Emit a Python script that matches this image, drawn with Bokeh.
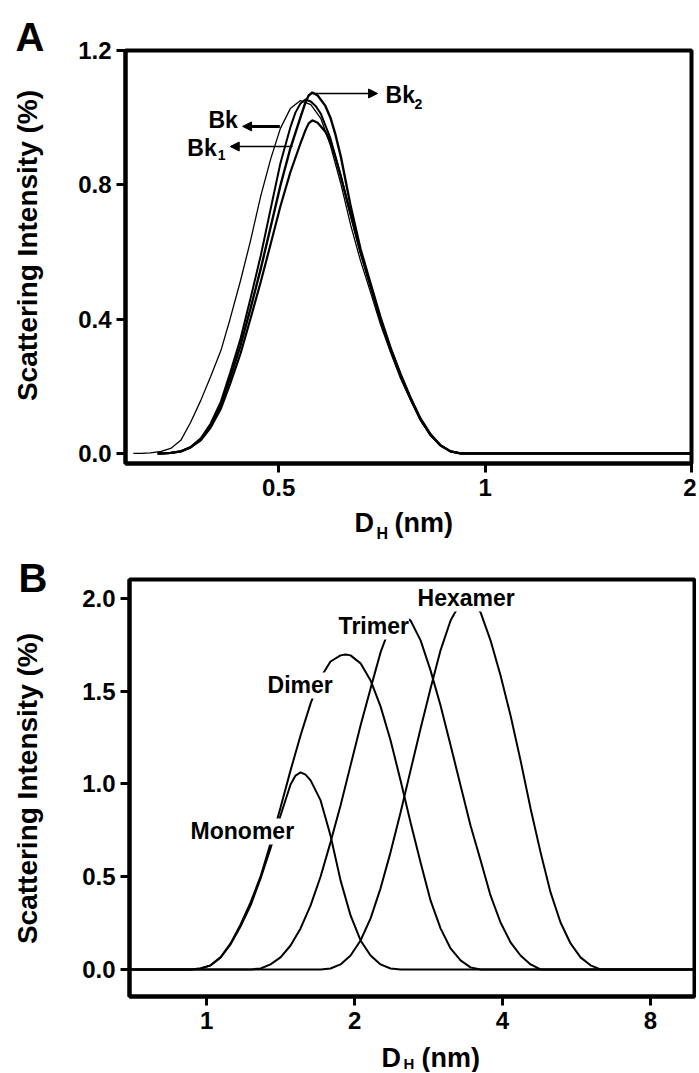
from bokeh.plotting import figure
from bokeh.models import Range1d, FixedTicker, CustomJSTickFormatter, Label, Arrow, NormalHead
from bokeh.layouts import column, row
from bokeh.core.properties import value
from bokeh.embed import file_html
from bokeh.resources import INLINE

FONT = "Liberation Sans"

# ---------------- Panel A data (D_H in nm, intensity in %) ----------------
a_bk_D = [0.307, 0.315, 0.325, 0.337, 0.348, 0.360, 0.372, 0.385, 0.398, 0.412, 0.425, 0.440,
          0.455, 0.471, 0.487, 0.503, 0.520, 0.538, 0.557, 0.576, 0.595, 0.616, 0.637, 0.658,
          0.681, 0.704, 0.728, 0.753, 0.779, 0.805, 0.833, 0.861, 0.891, 0.921, 2.0]
a_bk_I = [0.0, 0.0, 0.0015, 0.006, 0.015, 0.039, 0.092, 0.158, 0.229, 0.307, 0.402, 0.515,
          0.634, 0.768, 0.878, 0.968, 1.027, 1.051, 1.039, 0.998, 0.917, 0.804, 0.679, 0.575,
          0.479, 0.384, 0.301, 0.223, 0.158, 0.098, 0.054, 0.024, 0.006, 0.0, 0.0]

a_bk2_D = [0.333, 0.337, 0.348, 0.360, 0.372, 0.385, 0.398, 0.412, 0.425, 0.440, 0.455, 0.471,
           0.487, 0.503, 0.520, 0.538, 0.547, 0.553, 0.560, 0.570, 0.585, 0.595, 0.605, 0.616,
           0.637, 0.658, 0.681, 0.704, 0.728, 0.753, 0.779, 0.805, 0.833, 0.861, 0.891, 0.921, 2.0]
a_bk2_I = [0.0, 0.0, 0.0015, 0.006, 0.018, 0.042, 0.083, 0.146, 0.226, 0.322, 0.432, 0.551,
           0.676, 0.798, 0.908, 1.001, 1.045, 1.066, 1.075, 1.066, 1.035, 1.000, 0.950, 0.885,
           0.735, 0.610, 0.505, 0.405, 0.315, 0.236, 0.165, 0.104, 0.057, 0.024, 0.006, 0.0, 0.0]

a_bk1_D = a_bk2_D
a_bk1_I = [0.0, 0.0, 0.0015, 0.006, 0.018, 0.039, 0.077, 0.134, 0.208, 0.298, 0.402, 0.512,
           0.625, 0.736, 0.837, 0.923, 0.962, 0.983, 0.992, 0.985, 0.958, 0.928, 0.882, 0.825,
           0.710, 0.600, 0.500, 0.400, 0.312, 0.234, 0.163, 0.101, 0.054, 0.024, 0.006, 0.0, 0.0]

a_c4_D = [0.333, 0.337, 0.348, 0.360, 0.372, 0.385, 0.398, 0.412, 0.425, 0.440, 0.455, 0.471,
          0.487, 0.503, 0.520, 0.529, 0.538, 0.547, 0.557, 0.566, 0.576, 0.595, 0.616, 0.637,
          0.658, 0.681, 0.704, 0.728, 0.753, 0.779, 0.805, 0.833, 0.861, 0.891, 0.921, 2.0]
a_c4_I = [0.0, 0.0, 0.0015, 0.006, 0.019, 0.045, 0.089, 0.155, 0.241, 0.342, 0.462, 0.590,
          0.730, 0.864, 0.971, 1.015, 1.042, 1.054, 1.048, 1.035, 1.012, 0.938, 0.828, 0.709,
          0.599, 0.494, 0.396, 0.307, 0.229, 0.161, 0.101, 0.054, 0.024, 0.006, 0.0, 0.0]

a_yticks = [0.0, 0.4, 0.8, 1.2]
a_xticks = [0.5, 1, 2]

# ---------------- Panel B data ----------------
b_mono_D = [0.697, 0.928, 0.972, 1.019, 1.068, 1.119, 1.173, 1.229, 1.288, 1.349, 1.414, 1.482,
            1.517, 1.553, 1.590, 1.628, 1.706, 1.787, 1.873, 1.963, 2.057, 2.156, 2.259, 2.367,
            2.481, 9.83]
b_mono_I = [0.0, 0.0, 0.005, 0.022, 0.065, 0.135, 0.232, 0.345, 0.491, 0.652, 0.830, 0.997,
            1.045, 1.062, 1.050, 1.019, 0.911, 0.722, 0.480, 0.291, 0.156, 0.075, 0.027, 0.005,
            0.0, 0.0]

b_di_D = [0.697, 0.928, 0.972, 1.019, 1.068, 1.119, 1.173, 1.229, 1.288, 1.349, 1.414, 1.482,
          1.553, 1.628, 1.706, 1.787, 1.873, 1.918, 1.963, 2.057, 2.156, 2.259, 2.367, 2.481,
          2.600, 2.725, 2.855, 2.992, 3.136, 3.286, 3.443, 3.609, 9.83]
b_di_I = [0.0, 0.0, 0.005, 0.022, 0.065, 0.140, 0.243, 0.361, 0.501, 0.679, 0.873, 1.073,
          1.261, 1.434, 1.574, 1.660, 1.693, 1.698, 1.693, 1.650, 1.558, 1.418, 1.235, 1.019,
          0.792, 0.577, 0.372, 0.221, 0.113, 0.049, 0.011, 0.0, 0.0]

b_tri_D = [0.697, 1.229, 1.288, 1.349, 1.414, 1.482, 1.553, 1.628, 1.706, 1.787, 1.873, 1.963,
           2.057, 2.156, 2.259, 2.367, 2.423, 2.481, 2.600, 2.725, 2.855, 2.992, 3.136, 3.286,
           3.443, 3.609, 3.781, 3.963, 4.153, 4.352, 4.561, 4.780, 9.83]
b_tri_I = [0.0, 0.0, 0.005, 0.027, 0.065, 0.129, 0.221, 0.345, 0.501, 0.685, 0.884, 1.100,
           1.315, 1.515, 1.709, 1.854, 1.892, 1.908, 1.881, 1.774, 1.612, 1.423, 1.208, 0.992,
           0.776, 0.588, 0.399, 0.253, 0.146, 0.075, 0.027, 0.0, 0.0]

b_hex_D = [0.697, 1.706, 1.787, 1.873, 1.963, 2.057, 2.156, 2.259, 2.367, 2.481, 2.600, 2.725,
           2.855, 2.992, 3.136, 3.286, 3.364, 3.443, 3.609, 3.781, 3.963, 4.153, 4.352, 4.561,
           4.780, 5.009, 5.249, 5.500, 5.764, 6.040, 6.330, 9.83]
b_hex_I = [0.0, 0.0, 0.005, 0.027, 0.075, 0.156, 0.275, 0.437, 0.631, 0.846, 1.073, 1.299,
           1.515, 1.720, 1.881, 1.978, 1.995, 1.989, 1.925, 1.774, 1.585, 1.369, 1.127, 0.868,
           0.631, 0.415, 0.253, 0.140, 0.065, 0.022, 0.0, 0.0]

b_yticks = [0.0, 0.5, 1.0, 1.5, 2.0]
b_xticks = [1, 2, 4, 8]

Y_TITLE = "Scattering Intensity (%)"


def no_align(p):
    # keep each canvas' frame where its own borders put it (no frame syncing in rows)
    try:
        p.frame_align = False
    except AttributeError:
        pass


def style(p):
    no_align(p)
    p.xgrid.visible = False
    p.ygrid.visible = False
    p.outline_line_color = "black"
    p.outline_line_width = 4
    p.background_fill_color = "white"
    p.border_fill_color = "white"
    for ax in (p.xaxis[0], p.yaxis[0]):
        ax.axis_line_width = 4
        ax.axis_line_color = "black"
        ax.major_tick_line_width = 3
        ax.major_tick_line_color = "black"
        ax.major_tick_out = 9
        ax.major_tick_in = 0
        ax.minor_tick_line_color = None
        ax.major_label_text_font = FONT
        ax.major_label_text_font_style = "bold"
        ax.major_label_text_font_size = "24px"
        ax.major_label_text_color = "black"
    p.xaxis.major_label_standoff = 6
    p.yaxis.major_label_standoff = 5
    p.yaxis.formatter = CustomJSTickFormatter(code="return tick.toFixed(1);")
    p.xaxis.formatter = CustomJSTickFormatter(code="return String(tick);")


def label(p, x, y, s, size, white=False):
    kw = dict(background_fill_color="white", background_fill_alpha=1.0) if white else {}
    p.add_layout(Label(x=x, y=y, text=s, text_font=FONT, text_font_style="bold",
                       text_font_size=size, text_align="left", text_baseline="alphabetic",
                       text_color="black", **kw))


def strip(width, height):
    # a text-only canvas whose data space is its own pixels (y up from its bottom)
    s = figure(width=width, height=height, output_backend="svg", toolbar_location=None,
               title=None, x_range=Range1d(0, width), y_range=Range1d(0, height),
               x_axis_location=None, y_axis_location=None, min_border=0)
    no_align(s)
    s.xgrid.visible = False
    s.ygrid.visible = False
    s.outline_line_color = None
    s.background_fill_color = "white"
    s.border_fill_color = "white"
    return s


def stext(s, x, y, t, size, angle=0.0, align="left"):
    s.text(x=[x], y=[y], text=[t], angle=angle, text_font=value(FONT),
           text_font_style="bold", text_font_size=size, text_align=align,
           text_baseline="middle", text_color="black")


# ---------------- Figure A ----------------
pa = figure(width=636, height=507, x_axis_type="log", output_backend="svg",
            toolbar_location=None, x_range=Range1d(0.299, 2.0), y_range=Range1d(-0.030, 1.2),
            min_border_left=65, min_border_right=5, min_border_top=50, min_border_bottom=44)
style(pa)
pa.xaxis.ticker = FixedTicker(ticks=a_xticks)
pa.yaxis.ticker = FixedTicker(ticks=a_yticks)

pa.line(a_bk_D, a_bk_I, line_color="black", line_width=1.3)
pa.line(a_c4_D, a_c4_I, line_color="black", line_width=2.0)
pa.line(a_bk1_D, a_bk1_I, line_color="black", line_width=2.2)
pa.line(a_bk2_D, a_bk2_I, line_color="black", line_width=2.4)

for xs, xe, yv, lw in ((0.502, 0.443, 0.974, 3.0), (0.524, 0.425, 0.914, 1.5),
                       (0.560, 0.697, 1.072, 1.5)):
    pa.add_layout(Arrow(end=NormalHead(size=9, fill_color="black", line_color="black"),
                        x_start=xs, y_start=yv, x_end=xe, y_end=yv,
                        line_width=lw, line_color="black"))
label(pa, 0.395, 0.992, "Bk", "23px")
label(pa, 0.368, 0.911, "Bk", "23px")
label(pa, 0.4075, 0.888, "1", "14px")
label(pa, 0.716, 1.066, "Bk", "23px")
label(pa, 0.789, 1.042, "2", "14px")

# left strip of panel A: page rows 0..507
sa = strip(60, 507)
stext(sa, 27, 507 - 245, Y_TITLE, "28px", angle=1.5708, align="center")
stext(sa, 15, 507 - 36, "A", "40px")

# x-axis title strip of panel A: page rows 507..545
xa = strip(696, 38)
stext(xa, 354, 545 - 522, "D", "27px")
stext(xa, 376, 545 - 533, "H", "16px")
stext(xa, 394, 545 - 522, "(nm)", "27px")

# ---------------- Figure B ----------------
pb = figure(width=636, height=496, x_axis_type="log", output_backend="svg",
            toolbar_location=None, x_range=Range1d(0.697, 9.83), y_range=Range1d(-0.146, 2.102),
            min_border_left=69, min_border_right=2, min_border_top=34, min_border_bottom=45)
style(pb)
pb.xaxis.ticker = FixedTicker(ticks=b_xticks)
pb.yaxis.ticker = FixedTicker(ticks=b_yticks)

for D, I in ((b_mono_D, b_mono_I), (b_di_D, b_di_I), (b_tri_D, b_tri_I), (b_hex_D, b_hex_I)):
    pb.line(D, I, line_color="black", line_width=2.0)

label(pb, 0.928, 0.744, "Monomer", "23px", white=True)
label(pb, 1.331, 1.531, "Dimer", "23px", white=True)
label(pb, 1.856, 1.849, "Trimer", "23px", white=True)
label(pb, 2.687, 2.000, "Hexamer", "23px", white=True)

# left strip of panel B: page rows 545..1041
sb = strip(60, 496)
stext(sb, 27, 1041 - 788, Y_TITLE, "28px", angle=1.5708, align="center")
stext(sb, 18, 1041 - 577, "B", "40px")

# x-axis title strip of panel B: page rows 1041..1072
xb = strip(696, 31)
stext(xb, 381, 1072 - 1057, "D", "27px")
stext(xb, 403, 1072 - 1063, "H", "15px")
stext(xb, 421, 1072 - 1057, "(nm)", "27px")

layout = column(row(sa, pa), xa, row(sb, pb), xb)
open("out.html", "w").write(file_html(layout, INLINE))
